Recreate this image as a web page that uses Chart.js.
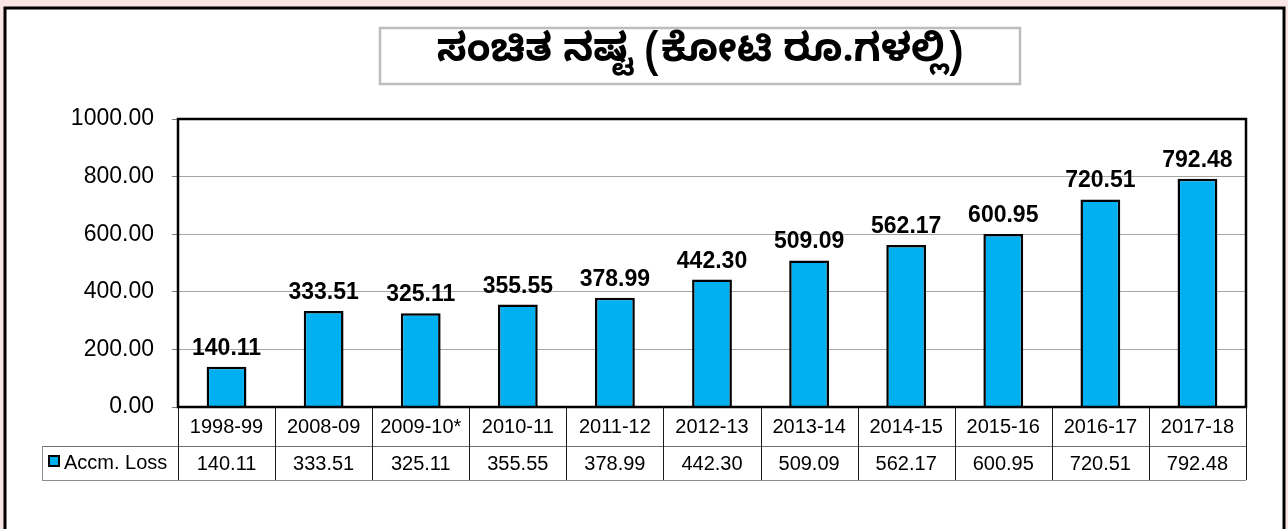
<!DOCTYPE html>
<html>
<head>
<meta charset="utf-8">
<script src="https://cdn.jsdelivr.net/npm/chart.js@4.4.1/dist/chart.umd.min.js"></script>
<style>
  html, body { margin: 0; padding: 0; background: #fbe6e6; }
  canvas { display: block; }
</style>
</head>
<body>
<canvas id="c" width="1288" height="529"></canvas>
<script>
const chartTitle = 'ಸಂಚಿತ ನಷ್ಟ (ಕೋಟಿ ರೂ.ಗಳಲ್ಲಿ)';
const categories = ['1998-99','2008-09','2009-10*','2010-11','2011-12','2012-13','2013-14','2014-15','2015-16','2016-17','2017-18'];
const seriesName = 'Accm. Loss';
const accmLoss = [140.11, 333.51, 325.11, 355.55, 378.99, 442.30, 509.09, 562.17, 600.95, 720.51, 792.48];
const yTicks = [0, 200, 400, 600, 800, 1000];

const BAR_COLOR = '#00b0f0';
const FONT = '"Liberation Sans", Arial, sans-serif';

const framePlugin = {
  id: 'frame',
  beforeDraw(chart) {
    const ctx = chart.ctx;
    ctx.save();
    ctx.fillStyle = '#fbe6e6';
    ctx.fillRect(0, 0, chart.width, chart.height);
    ctx.fillStyle = '#ffffff';
    ctx.fillRect(5, 8, 1279, 530);
    ctx.strokeStyle = '#000';
    ctx.lineWidth = 3;
    ctx.strokeRect(5, 8, 1279, 540);
    // title box
    ctx.fillStyle = '#fff';
    ctx.fillRect(380, 28, 640, 56);
    ctx.strokeStyle = '#bdbdbd';
    ctx.lineWidth = 2.5;
    ctx.strokeRect(380, 28, 640, 56);
    ctx.fillStyle = '#000';
    ctx.font = 'bold 39px "Noto Sans Kannada", "Noto Sans", ' + FONT;
    ctx.textAlign = 'center';
    ctx.textBaseline = 'middle';
    ctx.fillText(chartTitle, 700, 57);
    ctx.restore();
  },
  afterDraw(chart) {
    const ctx = chart.ctx;
    const a = chart.chartArea;
    const meta = chart.getDatasetMeta(0);
    const ys = chart.scales.y;
    ctx.save();
    // plot border
    ctx.strokeStyle = '#000';
    ctx.lineWidth = 2.5;
    ctx.strokeRect(a.left, a.top, a.right - a.left, a.bottom - a.top);

    // data labels
    ctx.fillStyle = '#000';
    ctx.font = 'bold 23px ' + FONT;
    ctx.textAlign = 'center';
    ctx.textBaseline = 'alphabetic';
    meta.data.forEach((bar, i) => {
      const y = ys.getPixelForValue(accmLoss[i]);
      ctx.fillText(accmLoss[i].toFixed(2), bar.x, y - 12);
    });

    // data table
    const n = categories.length;
    const cw = (a.right - a.left) / n;
    const row1Top = a.bottom, row1Bot = a.bottom + 39, row2Bot = a.bottom + 73;
    const legLeft = 42;
    ctx.lineWidth = 1;
    ctx.strokeStyle = '#6e6e6e';
    ctx.beginPath();
    ctx.moveTo(legLeft, row1Bot + 0.5); ctx.lineTo(a.right, row1Bot + 0.5);
    ctx.stroke();
    ctx.strokeStyle = '#8c8c8c';
    ctx.beginPath();
    ctx.moveTo(legLeft, row2Bot + 0.5); ctx.lineTo(a.right, row2Bot + 0.5);
    ctx.moveTo(legLeft + 0.5, row1Bot); ctx.lineTo(legLeft + 0.5, row2Bot);
    ctx.stroke();
    ctx.strokeStyle = '#1a1a1a';
    ctx.beginPath();
    for (let k = 0; k <= n; k++) {
      const x = Math.round(a.left + k * cw) + 0.5;
      ctx.moveTo(x, row1Top); ctx.lineTo(x, row2Bot);
    }
    ctx.stroke();
    ctx.fillStyle = '#000';
    ctx.font = '20px ' + FONT;
    ctx.textAlign = 'center';
    ctx.textBaseline = 'middle';
    categories.forEach((c, i) => {
      const x = a.left + (i + 0.5) * cw;
      ctx.fillText(c, x, (row1Top + row1Bot) / 2 + 1);
      ctx.fillText(accmLoss[i].toFixed(2), x, (row1Bot + row2Bot) / 2 + 1);
    });
    // legend key
    ctx.fillStyle = BAR_COLOR;
    ctx.fillRect(49, 456, 10, 10);
    ctx.strokeStyle = '#000';
    ctx.lineWidth = 2;
    ctx.strokeRect(49, 456, 10, 10);
    ctx.fillStyle = '#000';
    ctx.textAlign = 'left';
    ctx.fillText(seriesName, 64, (row1Bot + row2Bot) / 2);
    ctx.restore();
  }
};

new Chart(document.getElementById('c'), {
  type: 'bar',
  data: {
    labels: categories,
    datasets: [{
      label: seriesName,
      data: accmLoss,
      backgroundColor: BAR_COLOR,
      borderColor: '#000',
      borderWidth: 2.5,
      barPercentage: 0.41,
      categoryPercentage: 1.0
    }]
  },
  options: {
    responsive: false,
    animation: false,
    devicePixelRatio: 1,
    layout: { padding: { left: 0, top: 119, right: 42, bottom: 122 } },
    plugins: {
      legend: { display: false },
      title: { display: false },
      tooltip: { enabled: false }
    },
    scales: {
      x: { display: false },
      y: {
        min: 0, max: 1000,
        afterFit(s) { s.width = 178; },
        afterBuildTicks(s) { s.ticks = yTicks.map(v => ({ value: v })); },
        grid: { color: '#a6a6a6', lineWidth: 1, tickLength: 6, drawTicks: true, tickColor: '#808080' },
        border: { display: false },
        ticks: {
          color: '#000',
          padding: 18,
          font: { family: FONT, size: 23 },
          callback: v => Number(v).toFixed(2)
        }
      }
    }
  },
  plugins: [framePlugin]
});
</script>
</body>
</html>
